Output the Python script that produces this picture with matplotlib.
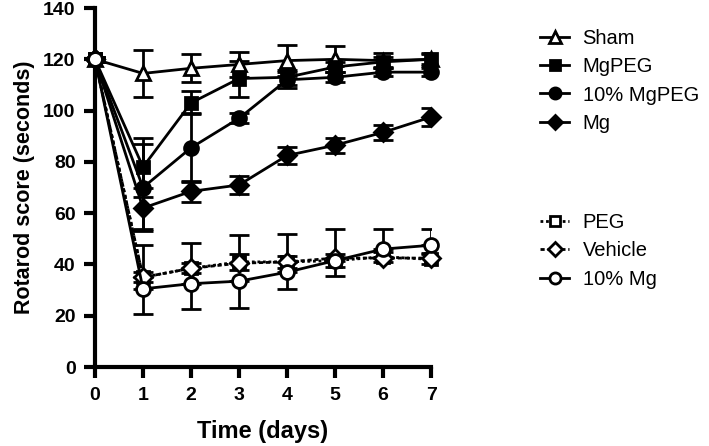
import numpy as np
import matplotlib
matplotlib.use("Agg")
import matplotlib.pyplot as plt
from matplotlib.lines import Line2D

plt.rcParams["font.family"] = ["Liberation Sans", "DejaVu Sans"]

days = [0, 1, 2, 3, 4, 5, 6, 7]

sham = [120, 114.5, 116.5, 118, 119.5, 120, 119.5, 120]
sham_err = [1, 9, 5.5, 5, 6, 5, 3, 2]

mgpeg = [120, 78, 103, 112.5, 113, 117, 119, 120]
mgpeg_err = [1, 11.5, 4.5, 7, 3, 2, 2, 2.5]

mgpeg10 = [120, 70, 85.5, 97, 112, 113, 115, 115]
mgpeg10_err = [1, 17, 13.5, 2, 3, 2, 1.5, 1.5]

mg = [120, 62, 68.5, 71, 82.5, 86.5, 91.5, 97.5]
mg_err = [1, 8, 4, 3.5, 3.5, 3, 3, 3.5]

peg = [120, 35, 38.5, 41, 41, 41.5, 43, 42]
peg_err = [1, 2, 2, 3, 2.5, 2.5, 2, 2]

vehicle = [120, 35, 38.5, 40.5, 41, 42.5, 42.5, 42.5]
vehicle_up = [1, 12.5, 10, 11, 11, 11.5, 11.5, 11.5]

mg10 = [120, 30.5, 32.5, 33.5, 37, 41.5, 46, 47.5]
mg10_down = [1, 10, 10, 10.5, 6.5, 6, 3, 3]

fig = plt.figure(figsize=(7.09, 4.46), dpi=100)
ax = fig.add_axes([0.134, 0.177, 0.474, 0.805])

lw = 2
ekw = dict(color="black", lw=lw, capsize=7, capthick=lw, elinewidth=lw)

series = [
    ("Sham", sham, [sham_err, sham_err], "^", "white", "-", 10),
    ("MgPEG", mgpeg, [mgpeg_err, mgpeg_err], "s", "black", "-", 9),
    ("10% MgPEG", mgpeg10, [mgpeg10_err, mgpeg10_err], "o", "black", "-", 10),
    ("Mg", mg, [mg_err, mg_err], "D", "black", "-", 9),
    ("PEG", peg, [peg_err, peg_err], "s", "white", (0, (1, 1)), 9),
    ("Vehicle", vehicle, [[0] * 8, vehicle_up], "D", "white", (0, (1.5, 1)), 9),
    ("10% Mg", mg10, [mg10_down, [0] * 8], "o", "white", "-", 10),
]

handles = []
for name, y, err, mk, fc, ls, ms in series:
    ax.errorbar(days, y, yerr=err, fmt="none", **ekw)
    ax.plot(days, y, color="black", lw=lw, ls=ls, marker=mk, mfc=fc,
            mec="black", mew=2, ms=ms, clip_on=False, zorder=3)
    handles.append(Line2D([0], [0], color="black", lw=lw, ls=ls, marker=mk,
                          mfc=fc, mec="black", mew=2, ms=ms - 2))

ax.set_xlim(0, 7)
ax.set_ylim(0, 140)
ax.set_xticks(days)
ax.set_yticks(range(0, 141, 20))
for s in ["top", "right"]:
    ax.spines[s].set_visible(False)
for s in ["left", "bottom"]:
    ax.spines[s].set_linewidth(3)
ax.tick_params(width=3, length=8, labelsize=14, pad=6)
for lab in ax.get_xticklabels() + ax.get_yticklabels():
    lab.set_fontweight("bold")

ax.set_xlabel("Time (days)", fontsize=17, fontweight="bold", labelpad=12)
ax.set_ylabel("Rotarod score (seconds)", fontsize=15.5, fontweight="bold", labelpad=6)

names = [s[0] for s in series]
lkw = dict(loc="upper left", frameon=False, fontsize=14.5, handlelength=1.45,
           labelspacing=0.46, handletextpad=0.65, borderaxespad=0, borderpad=0)
leg1 = fig.legend(handles[:4], names[:4], bbox_to_anchor=(0.762, 0.935), **lkw)
leg2 = fig.legend(handles[4:], names[4:], bbox_to_anchor=(0.762, 0.522), **lkw)

fig.savefig("out.png", dpi=100)
